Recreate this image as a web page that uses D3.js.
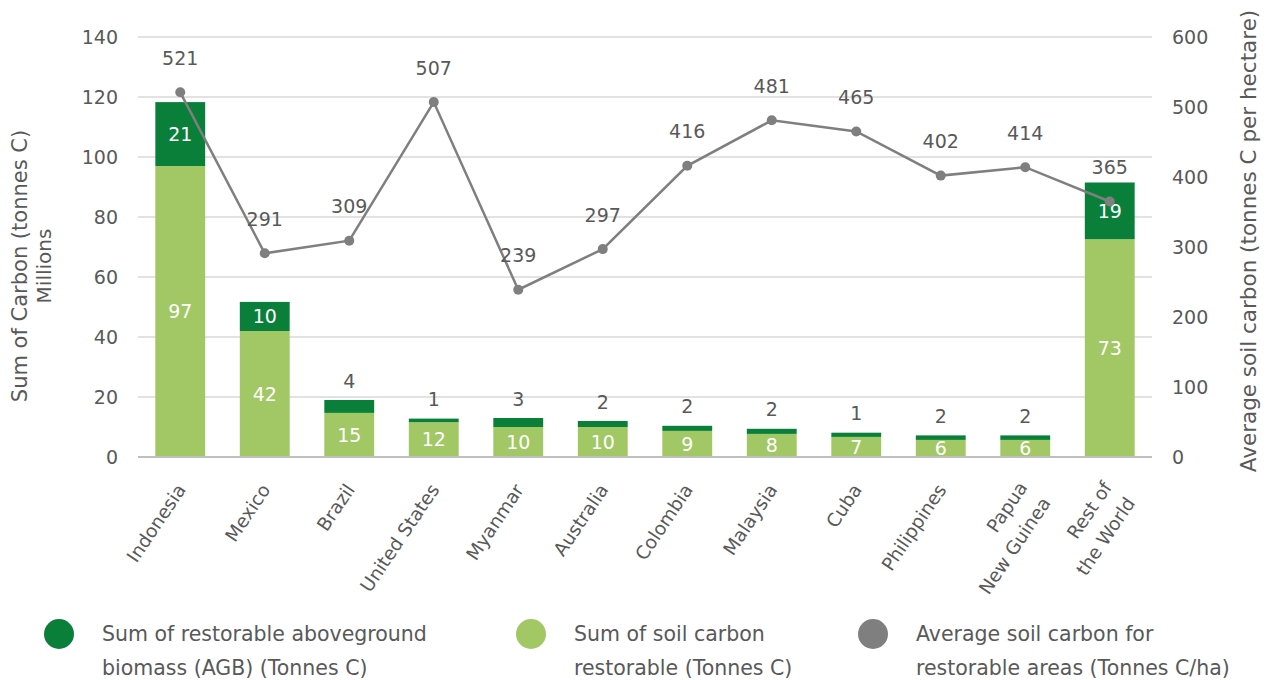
<!DOCTYPE html>
<html lang="en">
<head>
<meta charset="UTF-8">
<title>Restorable carbon by country</title>
<script src="https://d3js.org/d3.v7.min.js"></script>
<style>
    body { margin: 0; background: #fff; }
    svg text { font-family: 'DejaVu Sans', sans-serif; fill: #595959; }
</style>
</head>
<body>
<svg></svg>
<script>
    // data
    const countries = ['Indonesia', 'Mexico', 'Brazil', 'United States', 'Myanmar', 'Australia',
        'Colombia', 'Malaysia', 'Cuba', 'Philippines', 'Papua\nNew Guinea', 'Rest of\nthe World'];
    const soilCarbon = [97, 42, 14.7, 11.6, 10, 10, 8.7, 7.7, 6.7, 5.7, 5.7, 72.6];   // millions tonnes C
    const agbCarbon = [21.3, 9.7, 4.3, 1.2, 3, 2, 1.7, 1.7, 1.4, 1.5, 1.5, 18.9];     // millions tonnes C
    const avgSoil = [521, 291, 309, 507, 239, 297, 416, 481, 465, 402, 414, 365];     // tonnes C / ha
    const leftTicks = [0, 20, 40, 60, 80, 100, 120, 140];
    const rightTicks = [0, 100, 200, 300, 400, 500, 600];
    const legendLabels = [
        ['Sum of restorable aboveground', 'biomass (AGB) (Tonnes C)'],
        ['Sum of soil carbon', 'restorable (Tonnes C)'],
        ['Average soil carbon for', 'restorable areas (Tonnes C/ha)']
    ];

    const width = 1269, height = 680;
    const plotLeft = 138, plotRight = 1152, plotTop = 37, plotBottom = 457;
    const darkGreen = '#0A7F3A', lightGreen = '#A1C864', grey = '#7F7F7F';

    const svg = d3.select('svg').attr('width', width).attr('height', height);

    const x = d3.scaleBand().domain(countries).range([plotLeft, plotRight])
        .paddingInner(0.41).paddingOuter(0.205);
    const y = d3.scaleLinear().domain([0, 140]).range([plotBottom, plotTop]);
    const y2 = d3.scaleLinear().domain([0, 600]).range([plotBottom, plotTop]);
    const cx = d => x(d) + x.bandwidth() / 2;

    svg.append('defs').append('clipPath').attr('id', 'plot')
        .append('rect').attr('x', plotLeft).attr('y', 0).attr('width', plotRight - plotLeft).attr('height', plotBottom);

    // gridlines
    svg.append('g').selectAll('line').data(leftTicks.slice(1)).join('line')
        .attr('x1', plotLeft).attr('x2', plotRight)
        .attr('y1', d => y(d)).attr('y2', d => y(d))
        .attr('stroke', '#D9D9D9').attr('stroke-width', 1.3);

    // left axis
    const yAxis = svg.append('g').attr('transform', `translate(${plotLeft},0)`)
        .call(d3.axisLeft(y).tickValues(leftTicks).tickSize(0).tickPadding(20));
    yAxis.select('.domain').remove();
    yAxis.selectAll('text').style('font-size', '19px').attr('fill', '#595959');

    // right axis
    const yAxis2 = svg.append('g').attr('transform', `translate(${plotRight},0)`)
        .call(d3.axisRight(y2).tickValues(rightTicks).tickSize(0).tickPadding(20));
    yAxis2.select('.domain').remove();
    yAxis2.selectAll('text').style('font-size', '19px').attr('fill', '#595959');

    // stacked bars
    const bars = svg.append('g');
    bars.selectAll('rect.soil').data(countries).join('rect')
        .attr('class', 'soil')
        .attr('x', d => x(d)).attr('width', x.bandwidth())
        .attr('y', (d, i) => y(soilCarbon[i]))
        .attr('height', (d, i) => y(0) - y(soilCarbon[i]))
        .attr('fill', lightGreen);
    bars.selectAll('rect.agb').data(countries).join('rect')
        .attr('class', 'agb')
        .attr('x', d => x(d)).attr('width', x.bandwidth())
        .attr('y', (d, i) => y(soilCarbon[i] + agbCarbon[i]))
        .attr('height', (d, i) => y(soilCarbon[i]) - y(soilCarbon[i] + agbCarbon[i]))
        .attr('fill', darkGreen);

    // x axis line
    svg.append('line').attr('x1', plotLeft).attr('x2', plotRight)
        .attr('y1', plotBottom).attr('y2', plotBottom)
        .attr('stroke', '#BFBFBF').attr('stroke-width', 2);

    // bar labels
    const labels = svg.append('g').style('font-size', '19px');
    labels.append('g').attr('clip-path', 'url(#plot)')
        .selectAll('text').data(countries).join('text')
        .attr('x', cx)
        .attr('y', (d, i) => (y(0) + y(soilCarbon[i])) / 2)
        .attr('dy', '0.35em')
        .attr('text-anchor', 'middle')
        .style('fill', '#fff')
        .text((d, i) => Math.round(soilCarbon[i]));

    const agbInside = i => (y(soilCarbon[i]) - y(soilCarbon[i] + agbCarbon[i])) > 24;
    labels.append('g').selectAll('text').data(countries).join('text')
        .attr('x', cx)
        .attr('y', (d, i) => {
            const y0 = y(soilCarbon[i]), y1 = y(soilCarbon[i] + agbCarbon[i]);
            return agbInside(i) ? (y0 + y1) / 2 : y1 - 19;
        })
        .attr('dy', '0.35em')
        .attr('text-anchor', 'middle')
        .style('fill', (d, i) => agbInside(i) ? '#fff' : '#595959')
        .text((d, i) => Math.round(agbCarbon[i]));

    // line on the right axis
    const line = d3.line()
        .x((d, i) => cx(countries[i]))
        .y(d => y2(d));
    svg.append('path').datum(avgSoil)
        .attr('d', line)
        .attr('fill', 'none').attr('stroke', grey).attr('stroke-width', 2.5);
    svg.append('g').selectAll('circle').data(avgSoil).join('circle')
        .attr('cx', (d, i) => cx(countries[i]))
        .attr('cy', d => y2(d))
        .attr('r', 5).attr('fill', grey);
    svg.append('g').style('font-size', '19px')
        .selectAll('text').data(avgSoil).join('text')
        .attr('x', (d, i) => cx(countries[i]))
        .attr('y', d => y2(d) - 34)
        .attr('dy', '0.35em')
        .attr('text-anchor', 'middle')
        .text(d => d);

    // category labels, rotated
    const cat = svg.append('g').style('font-size', '18.5px')
        .selectAll('text').data(countries).join('text')
        .attr('transform', d => `translate(${cx(d) + 1},${plotBottom + 29}) rotate(-56)`)
        .attr('text-anchor', 'end');
    cat.each(function (d) {
        const parts = d.split('\n');
        d3.select(this).selectAll('tspan').data(parts).join('tspan')
            .attr('x', 0)
            .attr('y', (p, j) => (j - (parts.length - 1) * 0.15) * 28)
            .attr('dy', '0.35em')
            .text(p => p);
    });

    // axis titles
    svg.append('text')
        .attr('transform', 'translate(20,266) rotate(-90)')
        .attr('text-anchor', 'middle').attr('dy', '0.35em')
        .style('font-size', '21px')
        .text('Sum of Carbon (tonnes C)');
    svg.append('text')
        .attr('transform', 'translate(44,266) rotate(-90)')
        .attr('text-anchor', 'middle').attr('dy', '0.35em')
        .style('font-size', '20px')
        .text('Millions');
    svg.append('text')
        .attr('transform', 'translate(1248,241) rotate(-90)')
        .attr('text-anchor', 'middle').attr('dy', '0.35em')
        .style('font-size', '21.5px')
        .text('Average soil carbon (tonnes C per hectare)');

    // legend
    const legendX = [59, 531, 873];
    const legendColors = [darkGreen, lightGreen, grey];
    const legend = svg.append('g').selectAll('g').data(legendLabels).join('g')
        .attr('transform', (d, i) => `translate(${legendX[i]},634)`);
    legend.append('circle').attr('r', 15).attr('fill', (d, i) => legendColors[i]);
    legend.append('text')
        .style('font-size', '20.5px')
        .selectAll('tspan').data(d => d).join('tspan')
        .attr('x', 43)
        .attr('y', (d, j) => j * 34)
        .attr('dy', '0.35em')
        .text(d => d);
</script>
</body>
</html>
